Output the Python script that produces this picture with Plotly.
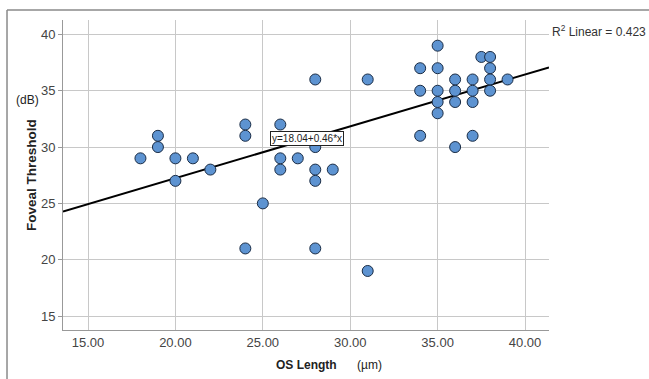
import plotly.graph_objects as go

# Data
os_length = [18, 19, 19, 20, 20, 21, 22, 24, 24, 24, 25, 26, 26, 26, 27,
             28, 28, 28, 28, 28, 29, 31, 31, 34, 34, 34, 35, 35, 35, 35, 35,
             36, 36, 36, 36, 37, 37, 37, 37, 37.5, 38, 38, 38, 38, 39]
foveal_threshold = [29, 31, 30, 29, 27, 29, 28, 32, 31, 21, 25, 32, 29, 28, 29,
                    36, 30, 28, 27, 21, 28, 36, 19, 37, 35, 31, 39, 37, 35, 34, 33,
                    36, 35, 34, 30, 36, 35, 34, 31, 38, 38, 37, 36, 35, 36]
intercept = 18.04
slope = 0.46
r2_text = "R<sup>2</sup> Linear = 0.423"
eq_text = "y=18.04+0.46*x"
x_ticks = [15, 20, 25, 30, 35, 40]
y_ticks = [15, 20, 25, 30, 35, 40]

x_range = [13.57, 41.37]
y_range = [13.76, 41.28]

font_family = "Liberation Sans, Arial, sans-serif"

fig = go.Figure()

fig.add_trace(go.Scatter(
    x=x_range,
    y=[intercept + slope * v for v in x_range],
    mode="lines",
    line=dict(color="black", width=2),
    hoverinfo="skip",
    showlegend=False,
))

fig.add_trace(go.Scatter(
    x=os_length, y=foveal_threshold, mode="markers",
    marker=dict(size=11, color="#5D93D1", line=dict(color="#1A2C45", width=1)),
    showlegend=False,
))

fig.update_layout(
    width=649, height=379,
    margin=dict(l=63, r=100, t=20, b=49),
    paper_bgcolor="white", plot_bgcolor="white",
    font=dict(family=font_family, size=12, color="#333"),
    xaxis=dict(
        range=x_range, tickvals=x_ticks,
        ticktext=[f"{v:.2f}" for v in x_ticks],
        showgrid=True, gridcolor="#C8C8C8", gridwidth=1,
        showline=True, linecolor="#999", linewidth=1,
        zeroline=False, ticks="", tickfont=dict(size=13, color="#444"),
    ),
    yaxis=dict(
        range=y_range, tickvals=y_ticks,
        showgrid=True, gridcolor="#C8C8C8", gridwidth=1,
        showline=True, linecolor="#999", linewidth=1,
        zeroline=False, ticks="outside", ticklen=4, tickcolor="#999",
        tickfont=dict(size=13, color="#444"),
    ),
    annotations=[
        dict(text="<b>Foveal Threshold</b>", xref="paper", yref="paper",
             x=-0.066, y=0.5, textangle=-90, showarrow=False,
             xanchor="center", yanchor="middle",
             font=dict(size=13.5, color="#222")),
        dict(text="(dB)", xref="paper", yref="paper",
             x=-0.074, y=0.742, showarrow=False,
             xanchor="center", yanchor="middle",
             font=dict(size=12, color="#222")),
        dict(text="<b>OS Length</b>", xref="paper", yref="paper",
             x=0.502, y=-0.113, showarrow=False,
             xanchor="center", yanchor="middle",
             font=dict(size=12, color="#222")),
        dict(text="(µm)", xref="paper", yref="paper",
             x=0.63, y=-0.113, showarrow=False,
             xanchor="center", yanchor="middle",
             font=dict(size=12, color="#222")),
        dict(text=r2_text, xref="paper", yref="paper",
             x=1.002, y=0.965, xanchor="left", yanchor="middle",
             showarrow=False,
             font=dict(size=12, color="#333")),
        dict(text=eq_text, xref="x", yref="y",
             x=27.54, y=30.8, showarrow=False,
             xanchor="center", yanchor="middle",
             bgcolor="white", bordercolor="#222", borderwidth=1, borderpad=1,
             font=dict(size=10, color="#222")),
    ],
    shapes=[
        dict(type="line", xref="paper", yref="paper",
             x0=-0.1152, y0=1.032, x1=1.3, y1=1.032,
             line=dict(color="#8a8a8a", width=1.5)),
        dict(type="line", xref="paper", yref="paper",
             x0=-0.1152, y0=1.032, x1=-0.1152, y1=-0.2,
             line=dict(color="#8a8a8a", width=1.5)),
    ],
)

fig.write_html(
    "out.html",
    config={"displayModeBar": False},
    post_script="document.body.style.margin='0';document.body.style.overflow='hidden';",
)
